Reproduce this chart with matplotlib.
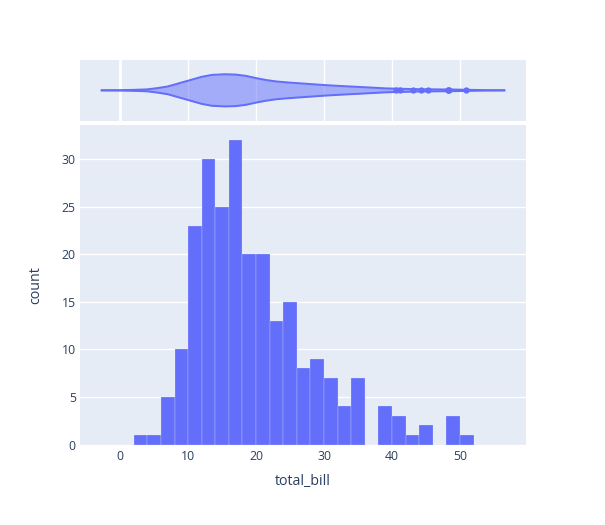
import matplotlib
matplotlib.use('Agg')
from matplotlib import pyplot as plt

# histogram of total_bill, bins of width 2 starting at 2
bin_edges = [2, 4, 6, 8, 10, 12, 14, 16, 18, 20, 22, 24, 26, 28, 30, 32, 34,
             36, 38, 40, 42, 44, 46, 48, 50, 52]
counts = [1, 1, 5, 10, 23, 30, 25, 32, 20, 20, 13, 15, 8, 9, 7, 4, 7,
          0, 4, 3, 1, 2, 0, 3, 1]

# violin outline (position, relative half width)
violin_x = [-2.7, 0, 2, 4, 5.5, 7, 8.5, 10, 12, 13.5, 15.4, 17, 18.5, 20,
            21.5, 23, 25, 27, 30, 32, 34.3, 37, 39.2, 42, 44, 46.6, 49,
            51.5, 54, 56.5]
violin_w = [0, 0.01, 0.03, 0.06, 0.14, 0.24, 0.42, 0.6, 0.84, 0.96, 1.0,
            0.98, 0.9, 0.76, 0.64, 0.55, 0.48, 0.42, 0.33, 0.28, 0.23, 0.17,
            0.12, 0.09, 0.07, 0.06, 0.05, 0.03, 0.01, 0]
outliers = [40.55, 41.19, 43.11, 44.30, 45.35, 48.17, 48.27, 48.33, 50.81]

blue = '#636efa'
bg = '#E5ECF6'
txt = '#2a3f5f'
plt.rcParams['font.family'] = ['Open Sans', 'DejaVu Sans']

fig = plt.figure(figsize=(6.05, 5.25), dpi=100)
ax = fig.add_axes([80 / 605, 1 - 444.5 / 525, 446 / 605, 319.5 / 525])
axv = fig.add_axes([80 / 605, 1 - 120.7 / 525, 446 / 605, 60.7 / 525])
xlim = (-5.9, 59.7)

# --- histogram ---
ax.set_facecolor(bg)
widths = [b - a for a, b in zip(bin_edges[:-1], bin_edges[1:])]
ax.bar(bin_edges[:-1], counts, width=widths, align='edge', color=blue,
       edgecolor=(0.9, 0.93, 0.97, 0.6), linewidth=0.3, zorder=2)
ax.set_xlim(*xlim)
ax.set_ylim(0, 33.6)
ax.set_yticks([0, 5, 10, 15, 20, 25, 30])
ax.set_xticks([0, 10, 20, 30, 40, 50])
ax.grid(axis='y', color='white', linewidth=1, zorder=1)
ax.set_axisbelow(True)
for s in ax.spines.values():
    s.set_visible(False)
ax.tick_params(length=0, colors=txt, labelsize=8.8, pad=4)
ax.tick_params(axis='y', pad=3)
ax.set_xlabel('total_bill', color=txt, fontsize=10.3, labelpad=8)
ax.set_ylabel('count', color=txt, fontsize=10.3, labelpad=13)

# --- marginal violin ---
axv.set_facecolor(bg)
scale = 0.53
upper = [w * scale for w in violin_w]
lower = [-w * scale for w in violin_w]
axv.fill_between(violin_x, lower, upper, color=blue, alpha=0.5, linewidth=0, zorder=3)
axv.plot(violin_x, upper, color=blue, linewidth=1.44, zorder=4)
axv.plot(violin_x, lower, color=blue, linewidth=1.44, zorder=4)
axv.plot(outliers, [0] * len(outliers), 'o', color=blue, markersize=4.5,
         markeredgewidth=0, zorder=5)
axv.set_xlim(*xlim)
axv.set_ylim(-1, 1)
axv.set_xticks([10, 20, 30, 40, 50])
axv.set_yticks([])
axv.grid(axis='x', color='white', linewidth=1, zorder=1)
axv.axvline(0, color='white', linewidth=2, zorder=1)
axv.set_axisbelow(True)
axv.tick_params(length=0, labelbottom=False)
for s in axv.spines.values():
    s.set_visible(False)

fig.savefig('out.png', dpi=100)
